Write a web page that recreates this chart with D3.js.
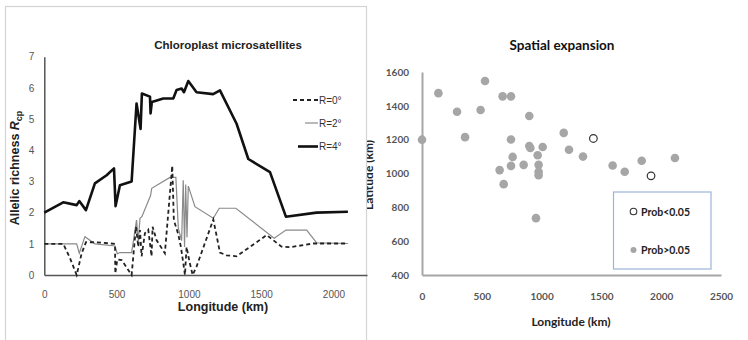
<!DOCTYPE html>
<html>
<head>
<meta charset="utf-8">
<script src="https://cdn.jsdelivr.net/npm/d3@7"></script>
<style>
  body { margin: 0; background: #fff; }
  svg { display: block; }
</style>
</head>
<body>
<svg id="chart" width="748" height="340"></svg>
<script>
// left panel: allelic richness along longitude, three series [km, value]
const r0 = [[0,1.0],[131,1.0],[177,0.55],[224,0],[258,0.69],[288,1.05],[350,1.05],[489,1.0],[491,0.05],[505,0.5],[535,0.48],[604,0],[634,1.55],[650,0.9],[662,1.44],[673,0.6],[696,1.34],[719,1.45],[742,0.6],[749,1.55],[776,1.12],[834,0.7],[885,3.5],[896,1.76],[927,1.3],[945,0.9],[973,0],[984,0.9],[1003,0.45],[1026,0],[1053,0.27],[1169,1.78],[1215,0.72],[1261,0.63],[1330,0.6],[1538,1.28],[1641,0.91],[1699,0.89],[1860,1.01],[2100,1.01]];
const r2 = [[0,1.0],[224,1.0],[242,0.7],[281,1.23],[350,1.0],[489,0.93],[505,0.68],[523,0.72],[604,0.72],[638,1.76],[650,1.1],[662,1.82],[675,1.87],[735,2.55],[743,2.78],[869,3.13],[910,3.13],[927,1.5],[950,1.1],[961,3.04],[970,0.9],[978,2.9],[987,1.2],[996,2.85],[1042,2.19],[1169,1.82],[1210,2.14],[1325,2.14],[1590,1.18],[1671,1.44],[1815,1.44],[1884,1.03],[2100,1.01]];
const r4 = [[0,2.0],[131,2.33],[224,2.24],[242,2.37],[288,2.08],[350,2.94],[431,3.2],[482,3.42],[493,2.21],[523,2.88],[604,3.0],[638,5.5],[666,4.68],[675,5.82],[731,5.72],[735,5.18],[744,5.55],[823,5.66],[892,5.66],[915,5.93],[950,5.98],[966,5.86],[996,6.22],[1053,5.86],[1168,5.8],[1215,5.92],[1330,4.85],[1411,3.72],[1561,3.3],[1671,1.87],[1883,2.0],[2100,2.03]];
const leftXTicks = [0, 500, 1000, 1500, 2000];
const leftYTicks = [0, 1, 2, 3, 4, 5, 6, 7];

// right panel: spatial expansion, populations [longitude, latitude]
const sigPoints = [[1433,1207],[1915,986]];
const nonSigPoints = [[0,1200],[137,1475],[293,1365],[360,1215],[490,1375],[527,1547],[674,1456],[744,1456],[744,1201],[897,1340],[897,1163],[906,1151],[758,1098],[744,1045],[850,1051],[649,1020],[683,937],[967,1108],[1009,1157],[975,1051],[975,1010],[975,990],[953,736],[1185,1240],[1229,1140],[1346,1100],[1594,1047],[1695,1010],[1837,1075],[2115,1092]];
const rightXTicks = [0, 500, 1000, 1500, 2000, 2500];
const rightYTicks = [400, 600, 800, 1000, 1200, 1400, 1600];

const svg = d3.select('#chart');
const arial = 'Liberation Sans, Arial, sans-serif';
const cal = 'Lato, Open Sans, sans-serif';
const fmt = d3.format('d');

/* ---- right chart first, left panel covers part of its y title ---- */
const xR = d3.scaleLinear().domain([0, 2500]).range([422, 721]);
const yR = d3.scaleLinear().domain([400, 1600]).range([275, 72]);
const gR = svg.append('g');

gR.append('text').attr('x', 562).attr('y', 50).attr('text-anchor', 'middle')
  .style('font-family', cal).style('font-weight', 'bold').style('font-size', '13.5px')
  .attr('fill', '#111').text('Spatial expansion');

gR.append('text').attr('transform', 'translate(373,175) rotate(-90)').attr('text-anchor', 'middle')
  .style('font-family', cal).style('font-weight', 'bold').style('font-size', '12px')
  .attr('fill', '#222').text('Latitude (km)');

gR.append('text').attr('x', 571).attr('y', 326).attr('text-anchor', 'middle')
  .style('font-family', cal).style('font-weight', 'bold').style('font-size', '12px')
  .attr('fill', '#222').text('Longitude (km)');

const axR = d3.axisBottom(xR).tickValues(rightXTicks).tickFormat(fmt).tickSize(0).tickPadding(18);
gR.append('g').attr('transform', 'translate(0,275)').call(axR)
  .call(g => g.select('.domain').attr('stroke', '#a6a6a6').attr('stroke-width', 2))
  .call(g => g.selectAll('text').style('font-family', cal).style('font-weight', 'bold')
    .style('font-size', '10px').attr('fill', '#555'));

const ayR = d3.axisLeft(yR).tickValues(rightYTicks).tickFormat(fmt).tickSize(0).tickPadding(13);
gR.append('g').attr('transform', 'translate(422,0)').call(ayR)
  .call(g => g.select('.domain').attr('stroke', '#a6a6a6').attr('stroke-width', 2))
  .call(g => g.selectAll('text').style('font-family', cal).style('font-weight', 'bold')
    .style('font-size', '10px').attr('fill', '#555'));

gR.append('g').selectAll('circle').data(nonSigPoints).join('circle')
  .attr('cx', d => xR(d[0])).attr('cy', d => yR(d[1])).attr('r', 4.3)
  .attr('fill', '#a6a6a6');

gR.append('g').selectAll('circle').data(sigPoints).join('circle')
  .attr('cx', d => xR(d[0])).attr('cy', d => yR(d[1])).attr('r', 3.8)
  .attr('fill', '#fff').attr('stroke', '#333').attr('stroke-width', 1.2);

// legend box
const lg = gR.append('g');
lg.append('rect').attr('x', 613.5).attr('y', 192).attr('width', 97.5).attr('height', 77)
  .attr('fill', '#fff').attr('stroke', '#9db4da').attr('stroke-width', 1.2);
lg.append('circle').attr('cx', 633.5).attr('cy', 211.5).attr('r', 3.3)
  .attr('fill', '#fff').attr('stroke', '#333').attr('stroke-width', 1.1);
lg.append('circle').attr('cx', 633.5).attr('cy', 250).attr('r', 3)
  .attr('fill', '#a6a6a6');
[['Prob<0.05', 215.5], ['Prob>0.05', 254]].forEach(([t, y]) => {
  lg.append('text').attr('x', 641).attr('y', y)
    .style('font-family', cal).style('font-weight', 'bold').style('font-size', '10.5px')
    .attr('fill', '#222').text(t);
});

/* ---- left panel ---- */
const gL = svg.append('g');
gL.append('rect').attr('x', 5.5).attr('y', 6.5).attr('width', 361).attr('height', 340)
  .attr('fill', '#fff').attr('stroke', '#d4d4d4').attr('stroke-width', 1.2);

const xL = d3.scaleLinear().domain([0, 2232]).range([44.3, 367]);
const yL = d3.scaleLinear().domain([0, 7]).range([275, 56.7]);

gL.append('text').attr('x', 228).attr('y', 49).attr('text-anchor', 'middle')
  .style('font-family', arial).style('font-weight', 'bold').style('font-size', '11.5px')
  .attr('fill', '#222').text('Chloroplast microsatellites');

const yt = gL.append('text').attr('transform', 'translate(19,168) rotate(-90)')
  .attr('text-anchor', 'middle').style('font-family', arial).style('font-weight', 'bold')
  .style('font-size', '12.5px').attr('fill', '#222');
yt.append('tspan').text('Allelic richness ');
yt.append('tspan').style('font-style', 'italic').text('R');
yt.append('tspan').attr('dy', 3).style('font-size', '9px').text('cp');

gL.append('text').attr('x', 223).attr('y', 311).attr('text-anchor', 'middle')
  .style('font-family', arial).style('font-weight', 'bold').style('font-size', '12.5px')
  .attr('fill', '#222').text('Longitude (km)');

const axL = d3.axisBottom(xL).tickValues(leftXTicks).tickFormat(fmt).tickSize(0).tickPadding(16);
gL.append('g').attr('transform', 'translate(0,275)').call(axL)
  .call(g => g.select('.domain').attr('stroke', '#555').attr('stroke-width', 1.5))
  .call(g => g.selectAll('text').style('font-family', arial).style('font-size', '10px').attr('fill', '#555'));

const ayL = d3.axisLeft(yL).tickValues(leftYTicks).tickFormat(fmt).tickSize(0).tickPadding(10);
gL.append('g').attr('transform', 'translate(44.3,0)').call(ayL)
  .call(g => g.select('.domain').attr('stroke', '#555').attr('stroke-width', 1.5))
  .call(g => g.selectAll('text').style('font-family', arial).style('font-size', '10px').attr('fill', '#555'));

const line = d3.line().x(d => xL(d[0])).y(d => yL(d[1]));

gL.append('path').datum(r2).attr('d', line).attr('fill', 'none')
  .attr('stroke', '#8a8a8a').attr('stroke-width', 1.2);
gL.append('path').datum(r0).attr('d', line).attr('fill', 'none')
  .attr('stroke', '#222').attr('stroke-width', 1.8).attr('stroke-dasharray', '4,3');
gL.append('path').datum(r4).attr('d', line).attr('fill', 'none')
  .attr('stroke', '#111').attr('stroke-width', 2.6).attr('stroke-linejoin', 'round');

// legend
const legL = [
  { label: 'R=0°', y: 100, x1: 293, stroke: '#222', w: 1.8, dash: '4,3' },
  { label: 'R=2°', y: 123, x1: 305, stroke: '#8a8a8a', w: 1.2, dash: null },
  { label: 'R=4°', y: 146.5, x1: 298, stroke: '#111', w: 2.6, dash: null }
];
legL.forEach(d => {
  gL.append('line').attr('x1', d.x1).attr('x2', 318).attr('y1', d.y).attr('y2', d.y)
    .attr('stroke', d.stroke).attr('stroke-width', d.w).attr('stroke-dasharray', d.dash);
  gL.append('text').attr('x', 319).attr('y', d.y + 3.5)
    .style('font-family', arial).style('font-size', '10px').attr('fill', '#333').text(d.label);
});
</script>
</body>
</html>
